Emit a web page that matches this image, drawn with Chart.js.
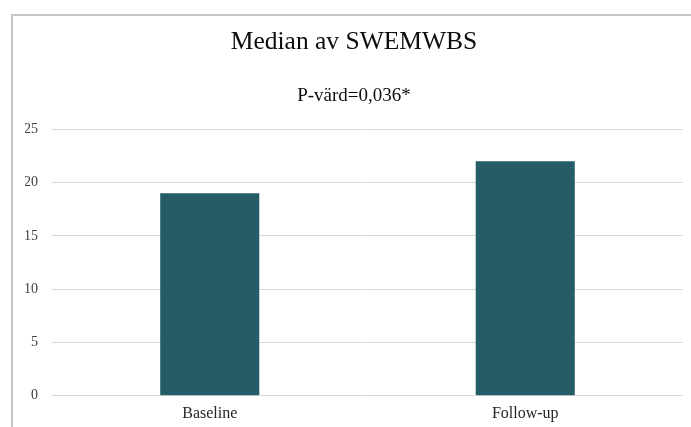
<!DOCTYPE html>
<html lang="sv">
<head>
    <meta charset="UTF-8">
    <title>Median av SWEMWBS</title>
    <style>
        body {
            margin: 0;
            padding: 0;
            background-color: #fff;
            overflow: hidden;
            width: 691px;
            height: 427px;
            position: relative;
        }
        .chart-box {
            position: absolute;
            left: 11px;
            top: 14px;
            width: 690px;
            height: 430px;
            border: 2px solid #c6c6c6;
            background: #fff;
        }
    </style>
</head>
<body>
    <div class="chart-box">
        <canvas id="medianChart"></canvas>
    </div>

    <script src="https://cdn.jsdelivr.net/npm/chart.js"></script>
    <script>
        // Data
        const categories = ['Baseline', 'Follow-up'];
        const medianValues = [19, 22];
        const yTicks = [0, 5, 10, 15, 20, 25];

        const serif = '"Liberation Serif", "Times New Roman", serif';

        const ctx = document.getElementById('medianChart').getContext('2d');
        ctx.canvas.width = 690;
        ctx.canvas.height = 430;

        new Chart(ctx, {
            type: 'bar',
            data: {
                labels: categories,
                datasets: [{
                    label: 'Median',
                    data: medianValues,
                    backgroundColor: '#245c68',
                    borderWidth: 0,
                    barPercentage: 0.628,
                    categoryPercentage: 0.5
                }]
            },
            options: {
                responsive: false,
                animation: false,
                layout: {
                    padding: { left: 12, right: 20, top: 0, bottom: 23 }
                },
                plugins: {
                    legend: { display: false },
                    tooltip: { enabled: false },
                    title: {
                        display: true,
                        text: 'Median av SWEMWBS',
                        color: '#0d0d0d',
                        font: { family: serif, size: 25.5, weight: 'normal' },
                        padding: { top: 11, bottom: 19 }
                    },
                    subtitle: {
                        display: true,
                        text: 'P-värd=0,036*',
                        color: '#0d0d0d',
                        font: { family: serif, size: 19, weight: 'normal' },
                        padding: { top: 8, bottom: 22 }
                    }
                },
                scales: {
                    x: {
                        grid: { display: false },
                        border: { display: false },
                        ticks: {
                            color: '#262626',
                            font: { family: serif, size: 16 },
                            padding: 0
                        }
                    },
                    y: {
                        min: 0,
                        max: 25,
                        afterFit: (scale) => { scale.width = 27; },
                        afterBuildTicks: (scale) => {
                            scale.ticks = yTicks.map(v => ({ value: v }));
                        },
                        grid: {
                            color: '#d9d9d9',
                            lineWidth: 1,
                            drawTicks: false
                        },
                        border: { display: false },
                        ticks: {
                            color: '#404040',
                            font: { family: serif, size: 14 },
                            padding: 14
                        }
                    }
                }
            }
        });
    </script>
</body>
</html>
